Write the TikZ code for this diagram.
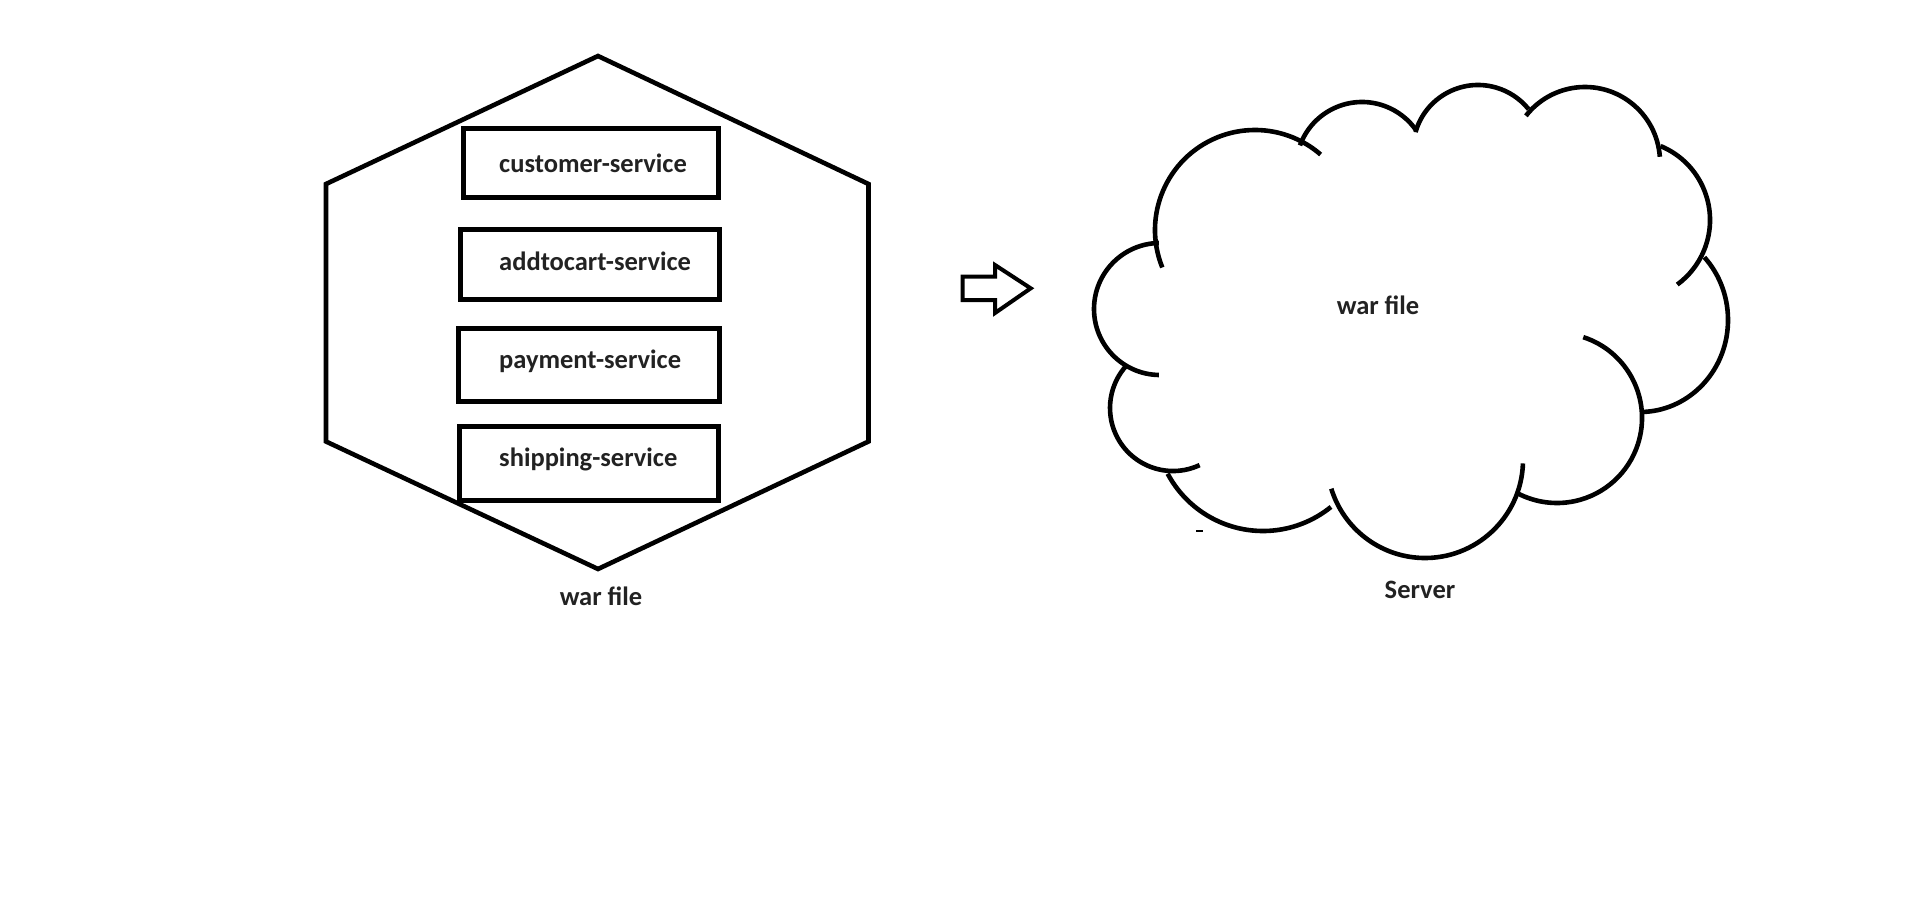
\documentclass[tikz,border=0pt]{standalone}
\usepackage{fontspec}
\setmainfont{Carlito}
\definecolor{txt}{HTML}{222222}
\begin{document}
\begin{tikzpicture}[x=1pt,y=-1pt,
  hexline/.style={line width=4.6pt,line join=miter},
  svcbox/.style={draw,line width=5pt,inner sep=0pt},
  svctext/.style={anchor=base west,inner sep=0pt,text=txt,font=\fontsize{26.5}{30}\selectfont\bfseries},
  lbl/.style={anchor=base,inner sep=0pt,text=txt,font=\fontsize{26.5}{30}\selectfont\bfseries},
  cloudline/.style={line width=4.6pt,line cap=butt},
  arrowline/.style={line width=4pt,line join=miter}]
\useasboundingbox[fill=white] (0,0) rectangle (1913,897);
% hexagon (war file)
\draw[hexline] (598,56) -- (868.5,184) -- (868.5,441.5) -- (598,569) -- (326,441.5) -- (326,184) -- cycle;
% service boxes
\node[svcbox,minimum width=255pt,minimum height=69.6pt] (cust) at (590.8,162.8) {};
\node[svcbox,minimum width=258.4pt,minimum height=70.3pt] (cart) at (590,264.8) {};
\node[svcbox,minimum width=261pt,minimum height=72.5pt] (pay) at (588.6,365) {};
\node[svcbox,minimum width=259.5pt,minimum height=74pt] (ship) at (588.8,463) {};
\node[svctext] (custl) at (499,172.7) {customer-service};
\node[svctext] (cartl) at (499,270.5) {addtocart-service};
\node[svctext] (payl) at (499,368.6) {payment-service};
\node[svctext] (shipl) at (499,466) {shipping-service};
\node[lbl] (warl) at (601,605) {war file};
% arrow
\draw[arrowline] (962.7,276.7) -- (995,276.7) -- (995,265) -- (1030.7,288.3) -- (995,313) -- (995,300) -- (962.7,300) -- cycle;
% cloud (server)
\draw[cloudline] ([shift={(158:100)}]1255,230) arc[start angle=158,end angle=311,radius=100];
\draw[cloudline] ([shift={(200:66)}]1362,168) arc[start angle=200,end angle=326,radius=66];
\draw[cloudline] ([shift={(196:65)}]1478,150) arc[start angle=196,end angle=321,radius=65];
\draw[cloudline] ([shift={(218:75)}]1585,162) arc[start angle=218,end angle=356,radius=75];
\draw[cloudline] ([shift={(-67.5:80)}]1630,220) arc[start angle=-67.5,end angle=53.8,radius=80];
\draw[cloudline] (1640,320) ++(-43:88 and 92) arc[start angle=-43,end angle=88.5,x radius=88,y radius=92];
\draw[cloudline] ([shift={(-72:85)}]1557,418) arc[start angle=-72,end angle=118,radius=85];
\draw[cloudline] ([shift={(2:98)}]1425,460) arc[start angle=2,end angle=163,radius=98];
\draw[cloudline] ([shift={(51:108)}]1263,423) arc[start angle=51,end angle=152,radius=108];
\draw[cloudline] ([shift={(65:63)}]1173,408) arc[start angle=65,end angle=223,radius=63];
\draw[cloudline] ([shift={(91:66)}]1160,309) arc[start angle=91,end angle=269,radius=66];
\draw[line width=1.5pt] (1196,531) -- (1203,531);
\node[lbl] (cwar) at (1378,314) {war file};
\node[lbl] (srv) at (1420,598.6) {Server};
\end{tikzpicture}
\end{document}
